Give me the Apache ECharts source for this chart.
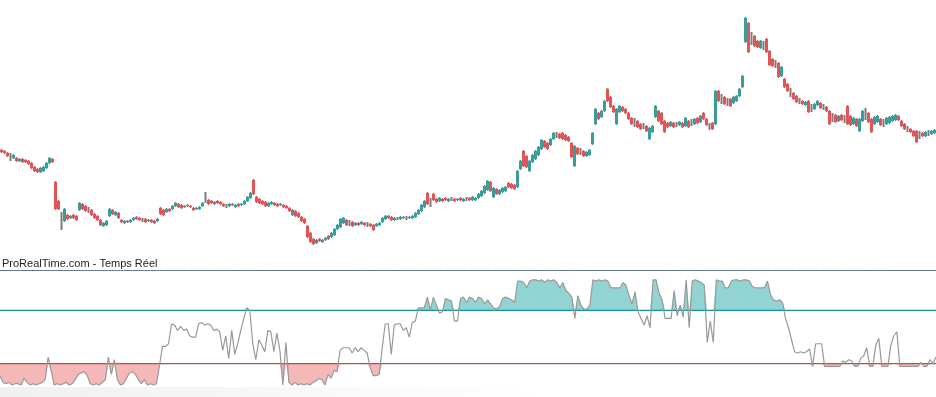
<!DOCTYPE html>
<html>
<head>
<meta charset="utf-8">
<script src="https://cdn.jsdelivr.net/npm/echarts@6/dist/echarts.min.js"></script>
<style>
  html, body { margin: 0; padding: 0; background: #fff; }
  #chart { width: 936px; height: 397px; }
</style>
</head>
<body>
<div id="chart"></div>
<script>
  'use strict'

  /* price candles (points), oldest first */
  var opens = [
    110,109,107,103,102,102,99,101,100,99, 97,93,91,88,89,92,97,101,78,59,
    39,39,45,42,45,44,50,56,54,50, 50,46,44,40,34,35,44,50,45,47,
    40,37,39,38,40,43,42,40,41,39, 40,39,39,52,50,48,51,51,54,56,
    55,53,55,54,52,51,51,54,62,60, 59,56,59,58,56,54,54,56,53,56,
    55,56,59,62,80,63,61,59,58,54, 56,57,56,55,55,54,52,45,49,47,
    43,41,34,27,21,17,21,18,20,24, 23,25,31,33,37,40,37,38,35,37,
    36,37,35,36,35,34,35,38,41,44, 43,40,41,41,43,42,42,42,43,46,
    49,53,67,57,66,61,59,61,62,59, 61,61,60,62,59,61,62,60,60,62,
    64,67,70,78,63,71,66,68,69,77, 76,75,73,91,109,104,89,98,101,105,
    111,119,117,115,121,125,126,127,125,123, 117,94,112,108,109,104,105,116,136,147,
    143,149,171,163,154,136,148,153,151,147, 142,137,139,136,134,134,121,128,143,149,
    147,139,137,134,137,135,135,137,134,139, 137,136,142,138,147,141,133,137,136,169,
    161,163,158,161,157,159,164,173,218,237, 221,224,219,212,214,221,209,201,196,197,
    184,181,176,167,167,164,159,159,155,159, 152,151,155,157,153,153,149,142,145,139,
    145,141,154,144,136,141,129,139,146,147, 141,136,138,141,137,136,137,139,140,144,
    139,136,131,131,129,129,125,127,124,127, 126,127
  ];
  var closes = [
    108,107,104,103,105,99,101,98,98,96, 92,89,88,92,93,97,102,98,51,51,
    39,51,41,44,42,40,57,51,49,50, 45,42,40,35,37,39,51,46,48,42,
    38,39,38,40,42,41,40,40,38,40, 38,37,41,46,45,51,49,54,57,53,
    52,54,54,53,50,52,53,57,62,56, 57,58,57,56,54,54,56,55,55,54,
    56,59,63,67,66,58,57,56,54,57, 58,55,54,56,53,52,49,50,44,43,
    39,37,23,18,16,20,19,20,22,21, 27,31,35,41,42,35,37,34,37,35,
    38,35,35,34,30,36,37,42,44,42, 40,42,41,43,42,42,43,44,47,50,
    55,59,56,57,60,58,62,59,60,61, 61,59,61,60,61,61,60,63,62,66,
    69,74,79,69,72,66,70,72,73,73, 72,71,89,99,94,93,99,105,109,113,
    120,113,111,121,127,125,122,121,120,119, 103,114,106,108,104,108,110,127,151,141,
    149,159,159,153,148,151,154,149,147,141, 136,137,133,131,134,129,132,134,154,139,
    136,128,133,138,133,135,138,133,142,133, 137,141,137,144,141,135,133,131,169,159,
    161,156,158,154,163,164,171,184,242,208, 221,214,213,219,214,208,195,194,196,183,
    193,173,169,167,161,158,159,156,158,148, 152,156,159,152,153,149,136,142,138,144,
    140,141,136,135,142,134,141,149,146,138, 128,143,144,135,137,142,143,144,145,140,
    134,131,131,128,124,118,125,124,128,127, 129,130
  ];
  var lows = [
    107,106,103,99,101,98,98,97,97,95, 91,88,87,87,88,91,96,97,50,50,
    30,38,40,41,41,39,49,50,48,47, 44,41,39,34,33,34,43,45,44,41,
    37,36,37,37,39,40,39,38,37,38, 37,36,38,45,44,47,48,50,53,52,
    51,52,53,52,49,50,50,53,57,55, 56,55,56,55,53,52,53,54,52,53,
    54,55,58,61,65,57,56,55,53,53, 55,54,53,54,52,51,48,44,43,42,
    38,36,22,17,15,16,18,17,19,20, 22,24,30,32,36,34,34,33,34,34,
    35,34,33,33,29,33,34,37,40,41, 39,39,40,40,41,40,41,41,42,45,
    48,52,55,53,59,57,58,58,59,58, 59,58,59,59,58,59,59,59,59,61,
    63,66,69,68,62,65,65,67,68,72, 71,70,72,90,93,92,88,97,100,104,
    110,112,110,114,120,122,121,120,119,118, 102,93,105,105,103,103,104,115,135,140,
    142,148,158,152,147,135,147,148,146,140, 135,133,132,130,131,128,120,127,142,138,
    135,127,132,133,132,133,134,132,133,132, 134,135,136,137,140,134,130,130,135,158,
    156,155,154,153,156,158,163,172,217,207, 215,213,212,211,210,207,194,193,192,182,
    183,172,168,163,160,157,156,155,154,147, 148,150,154,151,150,148,135,138,137,138,
    139,137,135,134,135,133,128,138,140,137, 127,135,137,134,133,135,136,138,139,139,
    133,130,128,127,123,117,121,123,123,124, 125,126
  ];
  var highs = [
    111,110,108,107,106,103,102,102,101,100, 98,94,92,93,94,98,103,102,79,60,
    48,52,46,45,46,45,58,57,55,53, 51,47,45,41,38,40,52,51,49,48,
    41,40,40,41,43,44,43,42,42,41, 41,40,42,53,51,52,52,55,58,57,
    56,55,56,55,53,53,54,58,68,61, 60,59,60,59,57,56,57,57,56,57,
    57,60,64,68,81,64,62,60,59,58, 59,58,57,57,56,55,53,51,50,48,
    44,42,35,28,22,21,22,21,23,25, 28,32,36,42,43,41,40,39,38,38,
    39,38,38,37,36,37,38,43,45,45, 44,43,43,44,44,44,44,45,48,51,
    56,60,68,62,67,62,63,62,63,62, 63,62,62,63,62,63,63,64,63,67,
    70,75,80,79,73,72,71,73,74,78, 77,76,90,100,110,105,100,106,110,114,
    121,120,118,122,128,128,127,128,126,124, 118,115,113,112,110,109,111,128,152,148,
    150,160,172,164,155,152,155,154,152,148, 143,142,140,137,137,135,133,135,155,150,
    148,140,138,139,138,138,139,138,143,140, 141,142,143,145,148,142,137,138,170,170,
    166,164,162,162,164,165,172,185,243,238, 228,225,220,220,219,222,210,202,200,198,
    194,182,177,172,168,165,162,160,159,160, 156,157,160,158,156,154,150,147,146,145,
    146,145,155,145,143,142,142,150,152,148, 142,144,145,142,141,143,144,145,146,145,
    140,137,134,132,130,130,129,128,129,130, 130,131
  ];

  /* oscillator (0-100) and its levels */
  var oscillator = [
    21,16,15,16,14,15,15,14,19,16, 14,15,14,15,16,18,35,25,14,15,
    14,15,16,14,15,18,22,23,24,21, 15,14,15,14,16,18,35,22,33,18,
    14,15,19,23,24,22,18,15,18,14, 15,14,15,29,43,43,45,60,59,55,
    58,55,56,51,50,50,60,61,59,60, 59,55,56,54,40,51,34,55,37,45,
    55,64,72,70,45,33,48,44,39,55, 54,39,53,40,14,46,16,14,16,14,
    15,14,15,14,16,17,19,18,14,22, 19,25,24,40,42,42,42,38,42,39,
    42,40,38,27,21,21,22,42,60,60, 37,59,60,60,55,57,50,61,62,72,
    72,72,80,70,80,74,68,69,79,78, 77,62,62,79,80,76,80,79,76,80,
    79,75,78,75,72,71,73,79,80,79, 78,76,92,92,91,87,92,93,93,92,
    93,91,93,92,93,91,87,91,85,83, 80,64,81,74,71,71,74,93,92,93,
    92,93,92,87,87,87,87,91,89,81, 75,84,69,64,59,66,57,93,93,83,
    78,64,64,64,85,66,74,65,93,57, 92,93,92,91,89,46,62,46,93,92,
    92,87,87,92,93,93,92,93,93,92, 88,87,87,87,87,92,82,78,77,78,
    76,64,57,48,39,38,39,38,39,41, 28,45,45,45,28,28,28,28,28,28,
    32,31,33,32,28,28,34,36,42,28, 28,44,49,28,28,28,44,51,54,28,
    28,28,28,28,28,28,31,28,28,33, 30,35
  ];
  var upperLevel = 70;
  var lowerLevel = 30;
  var topLevel = 100;

  var bars = opens.map(function (v, i) { return String(i + 1); });

  var upColor = '#3a9d9a';
  var downColor = '#e0555a';
  var flatColor = '#7c7c7c';

  var candleData = opens.map(function (o, i) {
    var item = { value: [o, closes[i], lows[i], highs[i]] };
    if (o === closes[i]) {
      item.itemStyle = { color: flatColor, borderColor: flatColor, borderWidth: 2 };
    }
    return item;
  });

  var base70 = oscillator.map(function () { return upperLevel; });
  var above70 = oscillator.map(function (v) { return Math.max(v - upperLevel, 0); });
  var base30 = oscillator.map(function (v) { return Math.min(v, lowerLevel); });
  var below30 = oscillator.map(function (v) { return lowerLevel - Math.min(v, lowerLevel); });

  var hidden = { show: false };
  var noLine = { color: 'rgba(0,0,0,0)', opacity: 0, width: 0.01 };

  // flat horizontal line on the oscillator panel
  function levelSeries(name, value, color, width) {
    return {
      name: name,
      type: 'line',
      xAxisIndex: 1,
      yAxisIndex: 1,
      data: oscillator.map(function () { return value; }),
      symbol: 'none',
      silent: true,
      z: 3,
      lineStyle: { color: color, width: width, type: 'solid' }
    };
  }

  var chart = echarts.init(document.getElementById('chart'), null, { renderer: 'canvas' });
  var option = {
    animation: false,
    backgroundColor: '#ffffff',
    title: {
      text: 'ProRealTime.com - Temps Réel',
      left: 2,
      top: 258,
      padding: 0,
      textStyle: {
        fontSize: 11,
        fontWeight: 'normal',
        color: '#1e1e1e',
        fontFamily: 'Liberation Sans, Arial, sans-serif'
      }
    },
    graphic: [{
      type: 'rect',
      z: -10,
      shape: { x: 0, y: 387, width: 540, height: 10 },
      style: {
        fill: new echarts.graphic.LinearGradient(0, 0, 1, 0, [
          { offset: 0, color: '#f0f0f0' },
          { offset: 1, color: '#ffffff' }
        ])
      }
    }],
    grid: [
      { left: 0, right: 0, top: 0, height: 260 },
      { left: 0, right: 0, top: 270.5, bottom: 0 }
    ],
    xAxis: [
      { type: 'category', gridIndex: 0, data: bars, boundaryGap: true,
        axisLine: hidden, axisTick: hidden, axisLabel: hidden, splitLine: hidden },
      { type: 'category', gridIndex: 1, data: bars, boundaryGap: false,
        axisLine: hidden, axisTick: hidden, axisLabel: hidden, splitLine: hidden }
    ],
    yAxis: [
      { type: 'value', gridIndex: 0, min: 0, max: 260,
        axisLine: hidden, axisTick: hidden, axisLabel: hidden, splitLine: hidden },
      { type: 'value', gridIndex: 1, min: 5, max: 100,
        axisLine: hidden, axisTick: hidden, axisLabel: hidden, splitLine: hidden }
    ],
    series: [
      {
        name: 'Prix',
        type: 'candlestick',
        xAxisIndex: 0,
        yAxisIndex: 0,
        barWidth: 1.6,
        data: candleData,
        itemStyle: {
          color: upColor,
          color0: downColor,
          borderColor: upColor,
          borderColor0: downColor,
          borderWidth: 1
        }
      },
      {
        type: 'line', xAxisIndex: 1, yAxisIndex: 1, stack: 'hi',
        data: base70, symbol: 'none', lineStyle: noLine, silent: true, z: 1
      },
      {
        type: 'line', xAxisIndex: 1, yAxisIndex: 1, stack: 'hi',
        data: above70, symbol: 'none', lineStyle: noLine, silent: true, z: 1,
        areaStyle: { color: '#92d4d3', opacity: 1 }
      },
      {
        type: 'line', xAxisIndex: 1, yAxisIndex: 1, stack: 'lo',
        data: base30, symbol: 'none', lineStyle: noLine, silent: true, z: 1
      },
      {
        type: 'line', xAxisIndex: 1, yAxisIndex: 1, stack: 'lo',
        data: below30, symbol: 'none', lineStyle: noLine, silent: true, z: 1,
        areaStyle: { color: '#f5b8b8', opacity: 1 }
      },
      levelSeries('Haut', topLevel, '#5d7885', 1),
      levelSeries('Surachat', upperLevel, '#1a9595', 1.3),
      levelSeries('Survente', lowerLevel, '#cc4444', 1.3),
      {
        name: 'Oscillateur',
        type: 'line',
        xAxisIndex: 1,
        yAxisIndex: 1,
        data: oscillator,
        symbol: 'none',
        z: 5,
        lineStyle: { color: '#999999', width: 1.2 }
      }
    ]
  };
  chart.setOption(option);
</script>
</body>
</html>
